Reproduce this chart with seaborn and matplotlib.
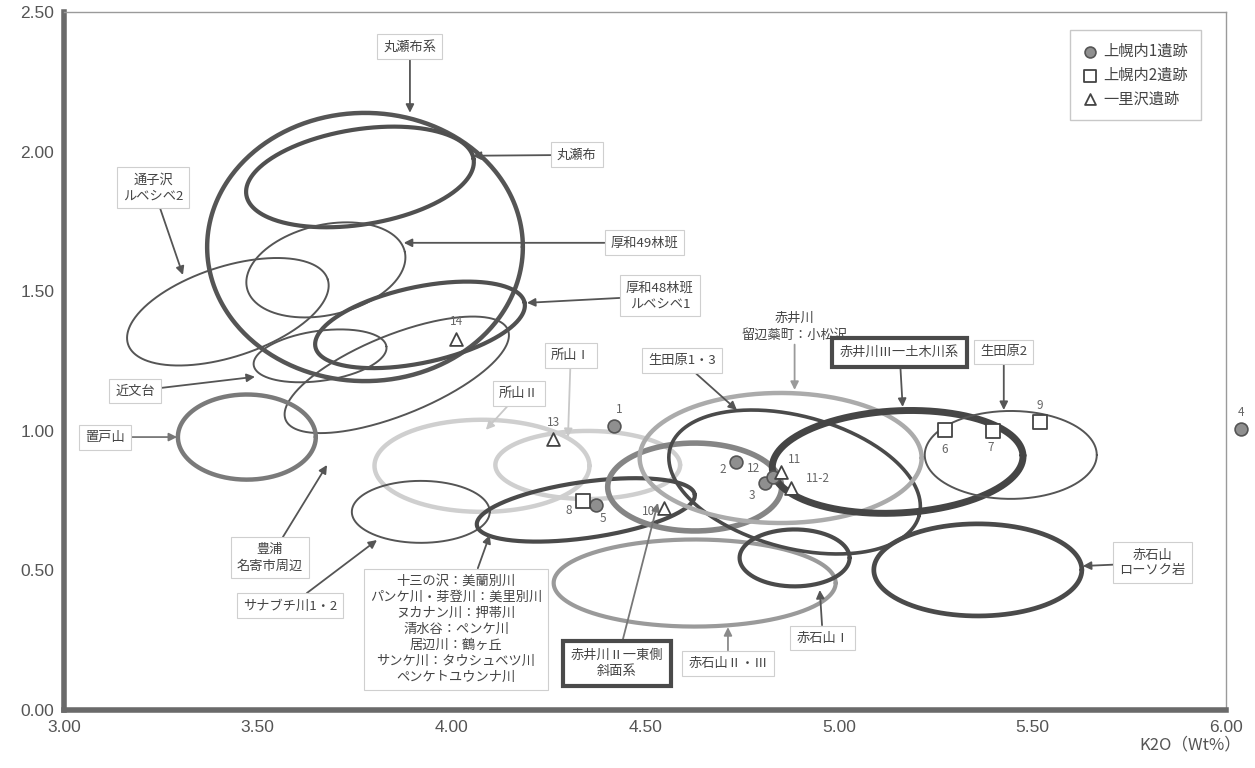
import numpy as np
import pandas as pd
import matplotlib
matplotlib.use("Agg")
import matplotlib.pyplot as plt
import seaborn as sns

sns.set_style("white")
plt.rcParams['font.family'] = ['Noto Sans CJK JP', 'DejaVu Sans']

# --- point data (K2O, Y) ---
site1_labels = ["1", "2", "3", "12", "5", "4"]
site1_x = [4.419, 4.736, 4.809, 4.830, 4.373, 6.039]
site1_y = [1.018, 0.890, 0.813, 0.835, 0.736, 1.006]

site2_labels = ["6", "7", "8", "9"]
site2_x = [5.274, 5.397, 4.339, 5.519]
site2_y = [1.004, 1.001, 0.750, 1.033]

site3_labels = ["10", "11", "11-2", "13", "14"]
site3_x = [4.548, 4.850, 4.878, 4.263, 4.013]
site3_y = [0.723, 0.854, 0.795, 0.970, 1.329]

# label offsets (points) for the sample numbers
num_offsets = {"1": (4, 12), "2": (-10, -6), "3": (-9, -9), "12": (-14, 6), "5": (5, -10),
               "4": (0, 12), "6": (0, -14), "7": (-1, -12), "8": (-10, -7), "9": (0, 12),
               "10": (-11, -2), "11": (10, 9), "11-2": (19, 7), "13": (0, 12), "14": (0, 13)}

# --- source ellipses: name, center x, center y, width (x units), height (y units), tilt ---
ell_names = ["丸瀬布系", "丸瀬布", "厚和49林班", "通子沢ルベシベ2", "厚和48林班ルベシベ1", "近文台",
             "豊浦", "置戸山", "所山Ⅱ", "所山Ⅰ", "サナブチ川1・2", "十三の沢", "赤井川Ⅱ",
             "赤石山Ⅱ・Ⅲ", "生田原1・3", "赤井川小松沢", "赤井川Ⅲ", "生田原2", "赤石山Ⅰ", "ローソク岩"]
ell_cx = [3.777, 3.764, 3.676, 3.423, 3.919, 3.661, 3.859, 3.472, 4.079, 4.352,
          3.921, 4.347, 4.628, 4.628, 4.886, 4.850, 5.152, 5.444, 4.886, 5.359]
ell_cy = [1.659, 1.910, 1.577, 1.427, 1.380, 1.269, 1.201, 0.978, 0.875, 0.878,
          0.710, 0.717, 0.799, 0.455, 0.817, 0.903, 0.889, 0.914, 0.545, 0.502]
ell_w = [0.815, 0.594, 0.418, 0.542, 0.552, 0.346, 0.619, 0.356, 0.555, 0.477,
         0.356, 0.568, 0.449, 0.728, 0.666, 0.728, 0.648, 0.444, 0.284, 0.537]
ell_h = [0.961, 0.341, 0.323, 0.323, 0.272, 0.179, 0.287, 0.305, 0.330, 0.244,
         0.222, 0.201, 0.315, 0.312, 0.473, 0.466, 0.366, 0.315, 0.204, 0.330]
ell_ang = [0, 9, 13, 18, 12, 8, 22, 0, 0, 0, 0, 8, 0, 0, -15, 0, 3, 0, 0, 0]

# line styles for the ellipses
ell_color = ["#555555", "#505050", "#555555", "#555555", "#505050", "#555555",
             "#555555", "#7a7a7a", "#cfcfcf", "#cfcfcf", "#555555", "#4a4a4a", "#858585",
             "#9a9a9a", "#4a4a4a", "#ababab", "#454545", "#555555", "#4a4a4a", "#4a4a4a"]
ell_lw = [3.2, 3.0, 1.4, 1.4, 3.0, 1.4, 1.4, 3.2, 3.2, 3.2,
          1.4, 3.0, 4.0, 3.0, 2.6, 3.2, 5.0, 1.4, 3.0, 3.4]

# --- callout labels: text, text position, arrow tip, box style ---
callouts = [
    ("丸瀬布系", (3.893, 2.376), (3.893, 2.140), "thin", "#555555"),
    ("丸瀬布", (4.324, 1.989), (4.055, 1.986), "thin", "#555555"),
    ("通子沢\nルベシベ2", (3.230, 1.871), (3.307, 1.559), "thin", "#555555"),
    ("厚和49林班", (4.499, 1.674), (3.877, 1.674), "thin", "#555555"),
    ("厚和48林班\nルベシベ1", (4.538, 1.484), (4.195, 1.459), "thin", "#555555"),
    ("近文台", (3.183, 1.143), (3.493, 1.194), "thin", "#555555"),
    ("置戸山", (3.106, 0.978), (3.292, 0.978), "thin", "#777777"),
    ("豊浦\n名寄市周辺", (3.532, 0.545), (3.679, 0.878), "thin", "#555555"),
    ("サナブチ川1・2", (3.583, 0.373), (3.808, 0.609), "thin", "#555555"),
    ("十三の沢：美蘭別川\nパンケ川・芽登川：美里別川\nヌカナン川：押帯川\n清水谷：ペンケ川\n"
     "居辺川：鶴ヶ丘\nサンケ川：タウシュベツ川\nペンケトユウンナ川", (4.012, 0.290), (4.099, 0.627), "thin", "#555555"),
    ("所山Ⅱ", (4.174, 1.133), (4.089, 1.004), "thin", "#c8c8c8"),
    ("所山Ⅰ", (4.308, 1.269), (4.301, 0.978), "thin", "#c8c8c8"),
    ("生田原1・3", (4.595, 1.251), (4.737, 1.075), "thin", "#555555"),
    ("赤井川\n留辺蘂町：小松沢", (4.886, 1.373), (4.886, 1.147), "none", "#9a9a9a"),
    ("赤井川Ⅲ一土木川系", (5.157, 1.280), (5.165, 1.086), "thick", "#555555"),
    ("生田原2", (5.426, 1.283), (5.426, 1.075), "thin", "#555555"),
    ("赤石山Ⅱ・Ⅲ", (4.714, 0.168), (4.714, 0.297), "thin", "#8a8a8a"),
    ("赤井川Ⅱ一東側\n斜面系", (4.427, 0.168), (4.533, 0.742), "thick", "#777777"),
    ("赤石山Ⅰ", (4.959, 0.258), (4.951, 0.430), "thin", "#555555"),
    ("赤石山\nローソク岩", (5.810, 0.527), (5.630, 0.516), "thin", "#555555"),
]

fig = plt.figure(figsize=(12.55, 7.68), dpi=100)
ax = fig.add_axes([0.051, 0.0755, 0.926, 0.9085])
ax.set_xlim(3, 6)
ax.set_ylim(0, 2.5)

# px per data unit on each axis, so tilted ellipses look right on screen
pos = ax.get_position()
sx = pos.width * fig.get_figwidth() / 3.0
sy = pos.height * fig.get_figheight() / 2.5


def draw_ellipse(cx, cy, w, h, ang, color, lw):
    t = np.linspace(0, 2 * np.pi, 400)
    th = np.deg2rad(ang)
    a = w / 2
    b = h / 2 * sy / sx
    dx = a * np.cos(th) * np.cos(t) - b * np.sin(th) * np.sin(t)
    dy = (a * np.sin(th) * np.cos(t) + b * np.cos(th) * np.sin(t)) * sx / sy
    ax.plot(cx + dx, cy + dy, color=color, lw=lw, zorder=2, solid_capstyle="round")


for i in range(len(ell_names)):
    draw_ellipse(ell_cx[i], ell_cy[i], ell_w[i], ell_h[i], ell_ang[i], ell_color[i], ell_lw[i])

# callouts
for text, xyt, xy, box, acol in callouts:
    if box == "thin":
        bbox = dict(boxstyle="square,pad=0.45", fc="white", ec="#cfcfcf", lw=0.8)
    elif box == "thick":
        bbox = dict(boxstyle="square,pad=0.6", fc="white", ec="#4a4a4a", lw=3.0)
    else:
        bbox = None
    ax.annotate(text, xy=xy, xytext=xyt, ha="center", va="center", fontsize=9.5,
                color="#444444", linespacing=1.3, bbox=bbox, zorder=5,
                arrowprops=dict(arrowstyle="-|>", color=acol, lw=1.3, mutation_scale=12,
                                shrinkA=0, shrinkB=0))

# points
d1 = pd.DataFrame({"x": site1_x, "y": site1_y})
d2 = pd.DataFrame({"x": site2_x, "y": site2_y})
d3 = pd.DataFrame({"x": site3_x, "y": site3_y})
sns.scatterplot(data=d1, x="x", y="y", ax=ax, marker="o", s=85, color="#8f8f8f",
                edgecolor="#555555", linewidth=1.2, label="上幌内1遺跡", zorder=6, clip_on=False)
sns.scatterplot(data=d2, x="x", y="y", ax=ax, marker="s", s=90, color="white",
                edgecolor="#444444", linewidth=1.3, label="上幌内2遺跡", zorder=6, clip_on=False)
sns.scatterplot(data=d3, x="x", y="y", ax=ax, marker="^", s=85, color="white",
                edgecolor="#444444", linewidth=1.3, label="一里沢遺跡", zorder=6, clip_on=False)

for labs, xs, ys in [(site1_labels, site1_x, site1_y), (site2_labels, site2_x, site2_y),
                     (site3_labels, site3_x, site3_y)]:
    for lab, x, y in zip(labs, xs, ys):
        ax.annotate(lab, (x, y), xytext=num_offsets[lab], textcoords="offset points",
                    ha="center", va="center", fontsize=8.5, color="#666666", zorder=7,
                    annotation_clip=False)

# axes styling
ax.set_xticks(np.arange(3, 6.01, 0.5))
ax.set_yticks(np.arange(0, 2.51, 0.5))
ax.xaxis.set_major_formatter(matplotlib.ticker.FormatStrFormatter("%.2f"))
ax.yaxis.set_major_formatter(matplotlib.ticker.FormatStrFormatter("%.2f"))
ax.tick_params(axis="both", length=4, width=2, color="#666666", labelsize=12.5,
               labelcolor="#555555", direction="out", pad=3)
for lab in ax.get_xticklabels() + ax.get_yticklabels():
    lab.set_family(["Liberation Sans", "DejaVu Sans"])
for side in ["left", "bottom"]:
    ax.spines[side].set_linewidth(4)
    ax.spines[side].set_color("#6a6a6a")
for side in ["top", "right"]:
    ax.spines[side].set_linewidth(1)
    ax.spines[side].set_color("#9a9a9a")
ax.set_xlabel("K2O（Wt%）", fontsize=12, color="#555555", ha="right")
ax.xaxis.set_label_coords(1.013, -0.038)
ax.xaxis.label.set_va("top")
ax.set_ylabel("")

leg = ax.legend(loc="upper right", bbox_to_anchor=(0.978, 0.974), borderaxespad=0,
                fontsize=11, frameon=True, fancybox=False, edgecolor="#bbbbbb",
                handletextpad=0.4, borderpad=0.8, labelspacing=0.45, handlelength=1.0,
                markerscale=0.85)
for t in leg.get_texts():
    t.set_color("#444444")

fig.savefig("out.png", dpi=100)
